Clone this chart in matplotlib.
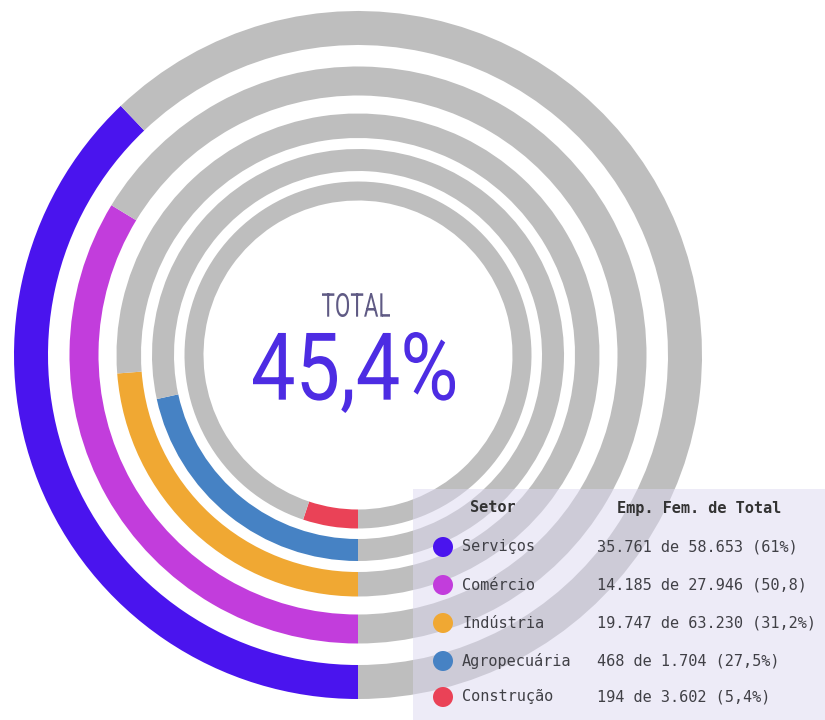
import matplotlib
matplotlib.use("Agg")
import matplotlib.pyplot as plt
from matplotlib.patches import Circle, Rectangle, PathPatch
from matplotlib.textpath import TextPath
from matplotlib.font_manager import FontProperties
from matplotlib.transforms import Affine2D

# Female employment share by sector (outer ring first)
sectors = ["Serviços", "Comércio", "Indústria", "Agropecuária", "Construção"]
female_share = [61, 50.8, 31.2, 27.5, 5.4]
share_labels = [
    "35.761 de 58.653 (61%)",
    "14.185 de 27.946 (50,8)",
    "19.747 de 63.230 (31,2%)",
    "468 de 1.704 (27,5%)",
    "194 de 3.602 (5,4%)",
]
total_share = "45,4%"

colors = ["#4a14ee", "#c23ddc", "#f0a833", "#4682c4", "#ea4257"]
track_gray = "#bebebe"

# ring geometry in pixels
center = (358, 355)
ring_outer = [344, 288.5, 241.5, 206, 173.5]
ring_width = [34, 29, 24.5, 22, 19]


def condensed_text(ax, s, box, color, prop):
    # squeeze a text path into a pixel box (left, top, right, bottom)
    path = TextPath((0, 0), s, size=100, prop=prop)
    ext = path.get_extents()
    x0, y0, x1, y1 = box
    sx = (x1 - x0) / ext.width
    sy = (y1 - y0) / ext.height
    tr = Affine2D().translate(-ext.x0, -ext.y1).scale(sx, -sy).translate(x0, y0)
    ax.add_patch(PathPatch(tr.transform_path(path), facecolor=color,
                           edgecolor="none", zorder=5))


def main():
    fig = plt.figure(figsize=(8.25, 7.2), dpi=100)
    ax = fig.add_axes([0, 0, 1, 1])

    for val, col, r, w in zip(female_share, colors, ring_outer, ring_width):
        # the remainder slice is 100, so each ring sweeps val / (val + 100)
        ax.pie([val, 100], radius=r, center=center, startangle=90,
               counterclock=True, colors=[col, track_gray],
               wedgeprops=dict(width=w, linewidth=0))

    ax.set_xlim(0, 825)
    ax.set_ylim(720, 0)
    ax.set_aspect("equal")
    ax.axis("off")

    face = FontProperties(family="Roboto", weight="normal")
    condensed_text(ax, "TOTAL", (322, 293, 390, 317), "#5f5a84", face)
    condensed_text(ax, total_share, (253, 332, 455, 413), "#4d2ce3", face)

    # sector table
    ax.add_patch(Rectangle((413, 489), 420, 240, facecolor="#ddd9f1",
                           alpha=0.5, edgecolor="none", zorder=3))
    mono = "DejaVu Sans Mono"
    ax.text(470, 508, "Setor", family=mono, fontsize=11, weight="bold",
            color="#333333", va="center", zorder=6)
    ax.text(617, 508, "Emp. Fem. de Total", family=mono, fontsize=11,
            weight="bold", color="#333333", va="center", zorder=6)
    row_y = [547, 585, 623, 661, 697]
    for y, name, lab, col in zip(row_y, sectors, share_labels, colors):
        ax.add_patch(Circle((443, y), 10, facecolor=col, edgecolor="none",
                            zorder=6))
        ax.text(462, y, name, family=mono, fontsize=11, color="#404046",
                va="center", zorder=6)
        ax.text(597, y, lab, family=mono, fontsize=11, color="#404046",
                va="center", zorder=6)

    fig.savefig("out.png", dpi=100, facecolor="white")


if __name__ == "__main__":
    main()
